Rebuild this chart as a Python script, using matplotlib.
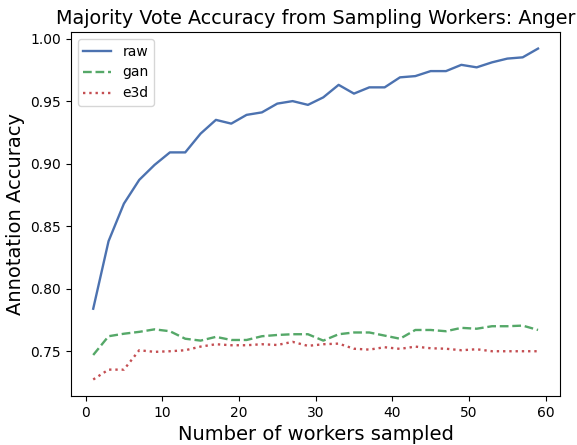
import numpy as np
import matplotlib
matplotlib.use("Agg")
import matplotlib.pyplot as plt

# workers sampled (odd counts 1..59)
workers = list(range(1, 60, 2))

raw = [0.784, 0.838, 0.868, 0.887, 0.899, 0.909, 0.909, 0.924, 0.935, 0.932,
       0.939, 0.941, 0.948, 0.950, 0.947, 0.953, 0.963, 0.956, 0.961, 0.961,
       0.969, 0.970, 0.974, 0.974, 0.979, 0.977, 0.981, 0.984, 0.985, 0.992]
gan = [0.747, 0.762, 0.764, 0.7655, 0.7675, 0.766, 0.760, 0.7585, 0.7615, 0.759,
       0.759, 0.762, 0.763, 0.7636, 0.7636, 0.7585, 0.7636, 0.765, 0.765, 0.7625,
       0.760, 0.767, 0.767, 0.766, 0.7687, 0.768, 0.770, 0.770, 0.7705, 0.767]
e3d = [0.7274, 0.7353, 0.7353, 0.7508, 0.7495, 0.750, 0.7508, 0.7537, 0.7556, 0.7548,
       0.7548, 0.7556, 0.755, 0.7575, 0.7543, 0.7556, 0.7561, 0.752, 0.7513, 0.7532,
       0.7519, 0.7537, 0.7524, 0.752, 0.7508, 0.7516, 0.750, 0.750, 0.750, 0.750]

fig = plt.figure(figsize=(5.77, 4.45), dpi=100)
ax = fig.add_axes([0.123, 0.110, 0.848, 0.818])

ax.plot(workers, raw, color="#4C72B0", linestyle="-", linewidth=1.7, label="raw")
ax.plot(workers, gan, color="#55A868", linestyle="--", linewidth=1.7, label="gan")
ax.plot(workers, e3d, color="#C44E52", linestyle=":", linewidth=1.7, label="e3d")

ax.set_title("Majority Vote Accuracy from Sampling Workers: Anger", fontsize=13.75)
ax.set_xlabel("Number of workers sampled", fontsize=14)
ax.set_ylabel("Annotation Accuracy", fontsize=14)
ax.set_xticks([0, 10, 20, 30, 40, 50, 60])
ax.legend(loc="upper left")

fig.savefig("out.png", dpi=100)
